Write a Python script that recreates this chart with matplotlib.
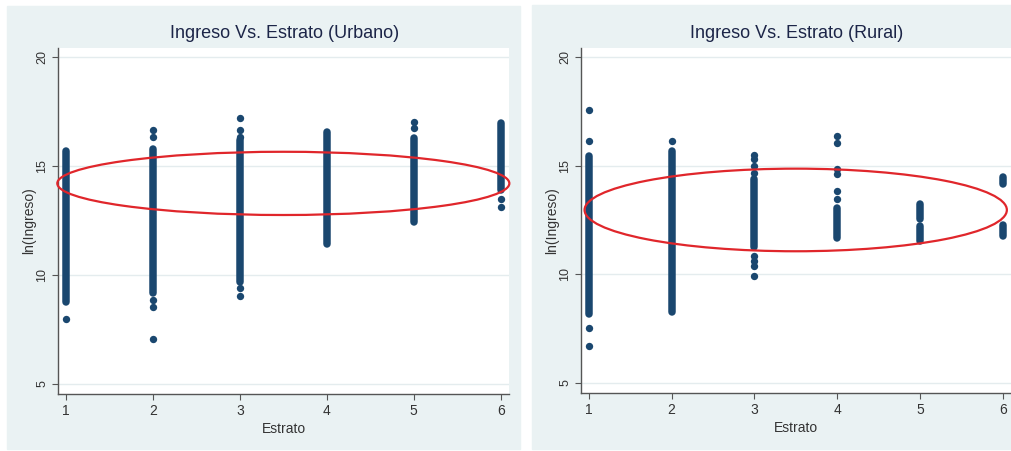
import numpy as np
import matplotlib
matplotlib.use("Agg")
import matplotlib.pyplot as plt
from matplotlib.patches import Ellipse, Rectangle

plt.rcParams['font.family'] = ['Liberation Sans', 'DejaVu Sans']

# ---- data ----
estratos = [1, 2, 3, 4, 5, 6]

# dense runs of points: (estrato, low, high)
urbano_runs = [(1, 8.75, 15.68), (2, 9.16, 15.8), (3, 9.7, 16.2),
               (4, 11.4, 16.55), (5, 12.45, 16.27), (6, 13.9, 16.96)]
# isolated points: (estrato, value)
urbano_pts = [(1, 7.98), (2, 16.65), (2, 16.35), (2, 8.85), (2, 8.55), (2, 7.05),
              (3, 17.19), (3, 16.65), (3, 16.35), (3, 9.4), (3, 9.05),
              (5, 17.03), (5, 16.75), (6, 13.5), (6, 13.1)]

rural_runs = [(1, 8.17, 15.46), (2, 8.25, 15.69), (3, 11.24, 14.39),
              (4, 11.66, 13.04), (5, 12.54, 13.24), (5, 11.55, 12.24),
              (6, 14.16, 14.46), (6, 11.78, 12.28)]
rural_pts = [(1, 17.58), (1, 16.13), (1, 7.53), (1, 6.72), (2, 16.15),
             (3, 15.49), (3, 15.31), (3, 15.0), (3, 14.65), (3, 10.86),
             (3, 10.6), (3, 10.4), (3, 9.94), (4, 16.38), (4, 16.05),
             (4, 14.85), (4, 14.6), (4, 13.85), (4, 13.47)]

titles = ["Ingreso Vs. Estrato (Urbano)", "Ingreso Vs. Estrato (Rural)"]
yticks = [5, 10, 15, 20]

# ellipse (center x, center y, width, height) marking each panel
urbano_ell = (3.5, 14.2, 5.2, 2.9)
rural_ell = (3.5, 12.96, 5.1, 3.8)

navy = "#1a476f"
panel_bg = "#eaf2f3"

fig = plt.figure(figsize=(10.11, 4.51), dpi=100)
fig.patch.set_facecolor("white")

# panel backgrounds (Stata style), kept behind the axes
fig.patches.append(Rectangle((7 / 1011, 1 - 449 / 451), 513 / 1011, 443 / 451,
                             transform=fig.transFigure, color=panel_bg, zorder=-5))
fig.patches.append(Rectangle((532 / 1011, 1 - 449 / 451), 479 / 1011, 444 / 451,
                             transform=fig.transFigure, color=panel_bg, zorder=-5))

ax1 = fig.add_axes([58 / 1011, 1 - 394 / 451, 451 / 1011, 346 / 451])
ax2 = fig.add_axes([581 / 1011, 1 - 393 / 451, 430 / 1011, 345 / 451])

setup = [(ax1, urbano_runs, urbano_pts, urbano_ell, titles[0], (0.908, 6.096), 285),
         (ax2, rural_runs, rural_pts, rural_ell, titles[1], (0.907, 6.1), 797)]

for ax, runs, pts, ell, title, xl, tx in setup:
    ax.set_facecolor("white")
    for y in yticks:
        ax.axhline(y, color="#e4ecee", lw=1.0, zorder=1)
    rx = [r[0] for r in runs]
    ax.vlines(rx, [r[1] for r in runs], [r[2] for r in runs],
              color=navy, lw=5.4, capstyle="round", zorder=3)
    ax.scatter([p[0] for p in pts], [p[1] for p in pts], s=28, color=navy,
               linewidths=0, zorder=3)
    e = Ellipse((ell[0], ell[1]), ell[2], ell[3], fill=False, edgecolor="#e0262b",
                lw=1.6, zorder=4, clip_on=False)
    ax.add_patch(e)
    ax.set_xlim(*xl)
    ax.set_ylim(4.54, 20.41)
    ax.set_xticks(estratos)
    ax.set_yticks(yticks)
    ax.tick_params(axis="y", labelrotation=90, length=4, color="#555555",
                   labelsize=9, labelcolor="#333333", pad=3)
    ax.tick_params(axis="x", length=4, color="#555555", labelsize=10,
                   labelcolor="#333333", pad=3)
    for lab in ax.get_yticklabels():
        lab.set_va("center")
    for s in ["top", "right"]:
        ax.spines[s].set_visible(False)
    for s in ["left", "bottom"]:
        ax.spines[s].set_color("#555555")
        ax.spines[s].set_linewidth(1.0)
    ax.set_xlabel("Estrato", fontsize=10, color="#333333", labelpad=3)
    ax.set_ylabel("ln(Ingreso)", fontsize=10, color="#333333", labelpad=0)
    fig.text(tx / 1011, 1 - 33 / 451, title, ha="center", va="center",
             fontsize=13, color="#1c2548")

fig.savefig("out.png", dpi=100, facecolor="white")
